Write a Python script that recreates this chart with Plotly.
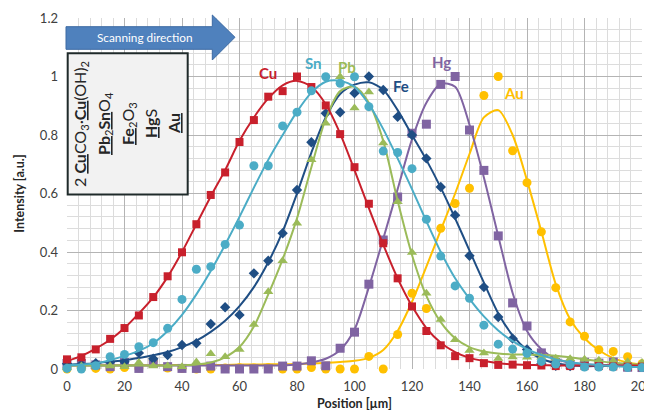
import plotly.graph_objects as go

# ---------------- data ----------------
positions = [0, 5, 10, 15, 20, 25, 30, 35, 40, 45,
             50, 55, 60, 65, 70, 75, 80, 85, 90, 95,
             100, 105, 110, 115, 120, 125, 130, 135, 140, 145,
             150, 155, 160, 165, 170, 175, 180, 185, 190, 195, 200]

cu_pts = [0.033, 0.04, 0.067, 0.103, 0.14, 0.183, 0.246, 0.317, 0.399, 0.495,
          0.595, 0.672, 0.776, 0.851, 0.931, 0.95, 1.0, 0.964, 0.901, 0.803,
          0.69, 0.565, 0.43, 0.31, 0.214, 0.13, 0.081, 0.044, 0.037, 0.02,
          0.014, 0.015, 0.013, 0.012, 0.01, 0.01, 0.01, 0.01, 0.009, 0.008, 0.008]
cu_fit = [0.027, 0.045, 0.07, 0.1, 0.14, 0.19, 0.245, 0.315, 0.4, 0.495,
          0.59, 0.68, 0.78, 0.86, 0.925, 0.97, 0.985, 0.965, 0.905, 0.805,
          0.68, 0.55, 0.425, 0.31, 0.215, 0.14, 0.09, 0.058, 0.038, 0.027,
          0.02, 0.016, 0.014, 0.013, 0.012, 0.012, 0.012, 0.012, 0.012, 0.012, 0.012]

sn_pts = [0.002, 0.0, 0.011, 0.042, 0.05, 0.076, 0.09, 0.139, 0.238, 0.341,
          0.35, 0.426, 0.492, 0.695, 0.695, 0.831, 0.878, 0.951, 0.999, 0.977,
          0.999, 0.897, 0.745, 0.74, 0.685, 0.512, 0.386, 0.284, 0.242, 0.15,
          0.085, 0.068, 0.054, 0.026, 0.017, 0.015, 0.007, 0.007, 0.007, 0.005, 0.005]
sn_fit = [0.012, 0.015, 0.02, 0.03, 0.045, 0.062, 0.088, 0.13, 0.185, 0.255,
          0.335, 0.425, 0.52, 0.62, 0.715, 0.8, 0.88, 0.945, 0.982, 0.985,
          0.965, 0.905, 0.82, 0.72, 0.615, 0.505, 0.4, 0.31, 0.24, 0.18,
          0.132, 0.095, 0.068, 0.048, 0.033, 0.023, 0.017, 0.013, 0.01, 0.008, 0.007]

pb_pts = [0.005, 0.01, 0.01, 0.01, 0.008, 0.022, 0.01, 0.01, 0.008, 0.024,
          0.052, 0.042, 0.067, 0.152, 0.264, 0.37, 0.498, 0.715, 0.84, 0.999,
          0.892, 0.947, 0.773, 0.572, 0.398, 0.259, 0.169, 0.1, 0.063, 0.055,
          0.036, 0.041, 0.04, 0.04, 0.037, 0.035, 0.033, 0.03, 0.028, 0.025, 0.022]
pb_fit = [0.012, 0.012, 0.012, 0.012, 0.012, 0.012, 0.012, 0.012, 0.013, 0.015,
          0.022, 0.04, 0.075, 0.145, 0.255, 0.375, 0.515, 0.69, 0.855, 0.95,
          0.965, 0.91, 0.78, 0.575, 0.39, 0.25, 0.16, 0.105, 0.075, 0.06,
          0.053, 0.05, 0.049, 0.048, 0.045, 0.04, 0.033, 0.027, 0.021, 0.017, 0.014]

fe_pts = [0.018, 0.015, 0.02, 0.024, 0.025, 0.055, 0.035, 0.048, 0.082, 0.088,
          0.154, 0.211, 0.185, 0.327, 0.37, 0.464, 0.612, 0.775, 0.874, 0.878,
          0.943, 1.0, 0.954, 0.862, 0.8, 0.72, 0.622, 0.526, 0.387, 0.28,
          0.178, 0.104, 0.067, 0.018, 0.011, 0.01, 0.01, 0.01, 0.01, 0.01, 0.01]
fe_fit = [0.015, 0.017, 0.02, 0.025, 0.03, 0.038, 0.047, 0.058, 0.075, 0.097,
          0.127, 0.165, 0.215, 0.28, 0.365, 0.47, 0.6, 0.74, 0.86, 0.94,
          0.972, 0.98, 0.955, 0.885, 0.8, 0.715, 0.62, 0.515, 0.405, 0.295,
          0.19, 0.115, 0.065, 0.035, 0.02, 0.013, 0.01, 0.01, 0.01, 0.01, 0.01]

hg_pts = [0.019, 0.019, 0.014, 0.008, 0.022, 0.002, 0.019, 0.008, 0.002, 0.002,
          0.01, 0.0, 0.0, 0.0, 0.0, 0.01, 0.01, 0.028, 0.011, 0.071,
          0.126, 0.29, 0.441, 0.588, 0.806, 0.837, 0.973, 1.0, 0.817, 0.679,
          0.455, 0.226, 0.147, 0.055, 0.022, 0.015, 0.023, 0.02, 0.024, 0.006, 0.005]
hg_fit = [0.012, 0.012, 0.012, 0.012, 0.012, 0.012, 0.012, 0.012, 0.012, 0.012,
          0.012, 0.012, 0.012, 0.012, 0.012, 0.012, 0.015, 0.022, 0.035, 0.065,
          0.135, 0.28, 0.445, 0.615, 0.785, 0.91, 0.975, 0.965, 0.835, 0.655,
          0.455, 0.26, 0.13, 0.068, 0.035, 0.022, 0.016, 0.014, 0.013, 0.012, 0.012]

au_pts = [0.0, 0.002, 0.002, 0.0, 0.005, 0.003, 0.03, 0.003, 0.002, 0.0,
          0.0, 0.003, 0.004, 0.003, 0.004, 0.0, 0.0, 0.005, 0.0, 0.0,
          0.0, 0.043, 0.0, 0.118, 0.259, 0.207, 0.481, 0.566, 0.618, 0.935,
          1.0, 0.746, 0.637, 0.469, 0.278, 0.161, 0.112, 0.066, 0.06, 0.042, 0.018]
au_fit = [0.013, 0.013, 0.013, 0.013, 0.013, 0.013, 0.013, 0.013, 0.014, 0.014,
          0.014, 0.014, 0.015, 0.015, 0.016, 0.016, 0.017, 0.019, 0.021, 0.024,
          0.028, 0.038, 0.065, 0.13, 0.23, 0.35, 0.475, 0.6, 0.735, 0.86,
          0.885, 0.8, 0.645, 0.47, 0.29, 0.17, 0.105, 0.064, 0.037, 0.022, 0.015]

series_names = ["Au", "Hg", "Fe", "Pb", "Cu", "Sn"]
series_pts = [au_pts, hg_pts, fe_pts, pb_pts, cu_pts, sn_pts]
series_fit = [au_fit, hg_fit, fe_fit, pb_fit, cu_fit, sn_fit]
colors = {"Cu": "#c8202c", "Sn": "#4bacc6", "Pb": "#9bbb59",
          "Fe": "#1f4e84", "Hg": "#8064a2", "Au": "#ffc000"}
symbols = {"Cu": "square", "Sn": "circle", "Pb": "triangle-up",
           "Fe": "diamond", "Hg": "square", "Au": "circle"}
sizes = {"Cu": 8, "Sn": 9, "Pb": 9, "Fe": 8, "Hg": 9, "Au": 9}

# label positions (x in µm, y in intensity)
label_pos = {"Cu": (70, 1.013), "Sn": (85.9, 1.046), "Pb": (97.3, 1.034),
             "Fe": (116.2, 0.968), "Hg": (130.3, 1.05), "Au": (155.5, 0.945)}

legend_lines = [
    "2 <b><u>Cu</u></b>CO<sub>3</sub>\u00b7<b><u>Cu</u></b>(OH)<sub>2</sub>",
    "<b><u>Pb</u></b><sub>2</sub><b><u>Sn</u></b>O<sub>4</sub>",
    "<b><u>Fe</u></b><sub>2</sub>O<sub>3</sub>",
    "<b><u>Hg</u></b>S",
    "<b><u>Au</u></b>",
]

fig = go.Figure()
for name, pts, fit in zip(series_names, series_pts, series_fit):
    c = colors[name]
    fig.add_trace(go.Scatter(x=positions, y=fit, mode="lines",
                             line=dict(color=c, width=2, shape="spline", smoothing=0.8),
                             showlegend=False, hoverinfo="skip", cliponaxis=False))
    fig.add_trace(go.Scatter(x=positions, y=pts, mode="markers", name=name,
                             marker=dict(symbol=symbols[name], size=sizes[name], color=c,
                                         line=dict(width=0)),
                             showlegend=False, cliponaxis=False))

annotations = []
for name, (lx, ly) in label_pos.items():
    annotations.append(dict(x=lx, y=ly, xref="x", yref="y", text="<b>%s</b>" % name,
                            showarrow=False, font=dict(size=15, color=colors[name], family="Lato"),
                            xanchor="center", yanchor="middle"))

# page body has an 8 px margin, so the figure is 8 px smaller and the
# plot area still spans window pixels x 67..642, y 18..369
def px2x(p):
    return (p - 67) / 575


def py2y(p):
    return (369 - p) / 351


# legend box text (rotated)
line_px = [80, 104, 128, 150, 173]
for px, txt in zip(line_px, legend_lines):
    annotations.append(dict(x=px2x(px), y=py2y(124), xref="paper", yref="paper",
                            text=txt, textangle=-90, showarrow=False,
                            font=dict(size=16, color="#262626", family="Lato"),
                            xanchor="center", yanchor="middle"))

annotations.append(dict(x=px2x(145), y=py2y(38), xref="paper", yref="paper",
                        text="Scanning direction", showarrow=False,
                        font=dict(size=11.8, color="white", family="Lato"),
                        xanchor="center", yanchor="middle"))

arrow_path = ("M {x0},{yb} L {xh},{yb} L {xh},{hb} L {xt},{ym} L {xh},{ht} L {xh},{yt} L {x0},{yt} Z"
              .format(x0=px2x(66), xh=px2x(212.3), xt=px2x(235),
                      yb=py2y(49.3), yt=py2y(26.7), hb=py2y(60), ht=py2y(15), ym=py2y(37.3)))

shapes = [
    dict(type="path", path=arrow_path, xref="paper", yref="paper",
         fillcolor="#4f81bd", line=dict(color="#3c6aa3", width=1), layer="above"),
    dict(type="rect", xref="paper", yref="paper", x0=px2x(67.7), x1=px2x(187.7),
         y0=py2y(194.5), y1=py2y(53.3), fillcolor="#f2f2f2",
         line=dict(color="#1f2a2a", width=2), layer="above"),
]

fig.update_layout(
    width=644, height=409, autosize=False,
    margin=dict(l=59, r=10, t=10, b=48, autoexpand=False),
    paper_bgcolor="white", plot_bgcolor="white",
    font=dict(family="Lato", color="#404040"),
    annotations=annotations, shapes=shapes,
)
fig.update_xaxes(range=[0, 200], dtick=20, tick0=0, showgrid=True, gridcolor="#b4b4b4", gridwidth=1,
                 minor=dict(dtick=4, tick0=0, showgrid=True, gridcolor="#dcdcdc", gridwidth=1),
                 zeroline=False, showline=False, ticks="", ticklabelstandoff=8,
                 ticklabeloverflow="allow", automargin=False,
                 tickfont=dict(size=13, color="#404040"),
                 title=dict(text="<b>Position [µm]</b>", font=dict(size=12.5, color="#262626"), standoff=6))
fig.update_yaxes(range=[0, 1.2], dtick=0.2, tick0=0, showgrid=True, gridcolor="#b4b4b4", gridwidth=1,
                 minor=dict(dtick=0.04, tick0=0, showgrid=True, gridcolor="#dcdcdc", gridwidth=1),
                 zeroline=False, showline=False, ticks="", ticklabelstandoff=8,
                 ticklabeloverflow="allow", automargin=False,
                 tickfont=dict(size=13, color="#404040"),
                 title=dict(text="<b>Intensity [a.u.]</b>", font=dict(size=12.5, color="#262626"), standoff=12))

fig.write_html("out.html")
